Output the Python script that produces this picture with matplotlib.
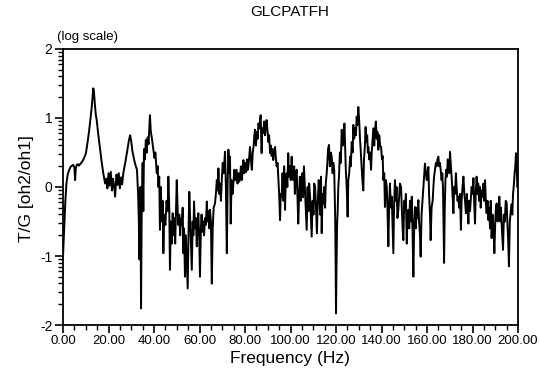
import numpy as np
import matplotlib
matplotlib.use("Agg")
from matplotlib import pyplot as plt
from matplotlib.ticker import FixedLocator, MultipleLocator

plt.rcParams['font.family'] = ['Liberation Sans', 'DejaVu Sans']

title = "GLCPATFH"
x_label = "Frequency (Hz)"
y_label = "T/G [oh2/oh1]"
x_ticks = [0, 20, 40, 60, 80, 100, 120, 140, 160, 180, 200]
y_ticks = [-2, -1, 0, 1, 2]

# (Hz, log10 T/G), split by frequency band
band_0_38 = [
    (0, -1.0), (0.5, -0.6), (1, -0.22), (1.5, 0.05), (2, 0.17), (2.5, 0.23), (3, 0.27), (3.5, 0.3),
    (4, 0.31), (4.5, 0.32), (5, 0.28), (5.3, 0.1), (5.6, 0.26), (6, 0.32), (6.5, 0.33), (7, 0.31),
    (7.5, 0.33), (8, 0.35), (8.5, 0.37), (9, 0.4), (9.5, 0.44), (10, 0.48), (10.5, 0.58), (11, 0.7),
    (11.5, 0.82), (12, 0.97), (12.5, 1.12), (13, 1.3), (13.3, 1.43), (13.6, 1.38), (14, 1.2),
    (14.4, 1.05), (14.8, 0.97), (15.5, 0.76), (16.3, 0.54), (17, 0.36), (17.7, 0.2), (18.5, 0.05),
    (19, 0.12), (19.5, -0.02), (20, 0.2), (20.5, 0.02), (21, 0.22), (21.5, -0.05), (22, 0.12),
    (22.5, 0.0), (22.9, -0.14), (23.5, 0.18), (24, 0.03), (24.5, 0.2), (25, -0.02), (25.5, 0.14),
    (26, 0.04), (26.5, 0.2), (27, 0.29), (27.5, 0.38), (28, 0.48), (28.5, 0.58), (29, 0.68),
    (29.5, 0.75), (30, 0.66), (30.5, 0.52), (31, 0.44), (31.5, 0.36), (32, 0.3), (32.5, 0.25),
    (33, -0.1), (33.3, -0.45), (33.6, -1.05), (34, 0.0), (34.3, -1.76), (34.6, -0.3), (35, 0.35),
    (35.3, -0.35), (35.6, 0.55), (36, 0.4), (36.4, 0.68), (36.8, 0.5), (37.2, 0.72), (37.6, 0.62),
    (38, 0.9), (38.2, 1.04),
]

band_38_73 = [
    (38.6, 0.8), (39.0, 0.72), (39.7, 0.54), (40.2, 0.42), (40.6, 0.5), (41.2, 0.2), (41.6, 0.3),
    (41.9, 0.0), (42.3, 0.15), (42.6, -0.62), (43.0, 0.0), (43.4, -0.5), (43.8, -0.2), (44.1, -0.96),
    (44.5, -0.4), (45.0, -0.55), (45.5, -0.2), (46.0, -0.35), (46.3, 0.15), (46.7, -0.3),
    (47.0, -1.2), (47.4, -0.5), (47.8, -0.82), (48.2, -0.38), (48.6, -0.7), (49.0, -0.45),
    (49.3, -0.82), (49.7, -0.3), (50.0, 0.1), (50.4, -0.35), (50.7, -0.55), (51.1, -0.4),
    (51.5, -0.7), (51.9, -0.45), (52.2, -0.55), (52.6, -0.3), (52.9, -0.96), (53.2, -0.6),
    (53.6, -1.3), (54.0, -0.7), (54.4, -1.1), (54.8, -1.47), (55.2, -0.6), (55.5, -0.07),
    (55.9, -0.5), (56.2, -0.8), (56.6, -1.2), (57.0, -0.5), (57.3, -0.7), (57.6, -0.21),
    (58.0, -0.6), (58.4, -0.45), (58.8, -0.86), (59.1, -0.5), (59.5, -0.38), (59.9, -0.8),
    (60.2, -1.3), (60.6, -0.6), (60.9, -0.4), (61.3, -0.65), (61.7, -0.5), (62.0, -0.7),
    (62.4, -0.45), (62.8, -0.55), (63.2, -0.21), (63.6, -0.5), (64.0, -0.35), (64.3, -0.6),
    (64.6, -0.33), (65.0, -0.5), (65.4, -1.4), (65.8, -0.6), (66.2, -0.3), (66.8, -0.24),
    (67.2, -0.1), (67.6, 0.1), (68.0, -0.05), (68.3, 0.27), (68.7, -0.1), (69.1, 0.05),
    (69.4, -0.2), (69.8, 0.1), (70.2, 0.35), (70.6, 0.2), (71.0, 0.4), (71.2, 0.51), (71.6, 0.0),
    (72.0, -0.96), (72.4, 0.1), (72.7, 0.54), (73.1, 0.2),
]

band_73_113 = [
    (73.4, 0.44), (73.7, -0.53), (74.1, 0.1), (74.5, -0.1), (74.9, 0.05), (75.3, 0.25), (75.7, 0.1),
    (76.3, 0.25), (76.7, 0.05), (77.1, 0.2), (77.5, 0.08), (77.8, 0.15), (78.2, 0.3), (78.6, 0.1),
    (79.0, 0.25), (79.3, 0.39), (79.7, 0.2), (80.1, 0.35), (80.5, 0.22), (80.9, 0.4), (81.2, 0.25),
    (81.5, 0.3), (81.9, 0.45), (82.2, 0.58), (82.6, 0.4), (83.0, 0.25), (83.4, 0.5), (83.8, 0.6),
    (84.1, 0.75), (84.4, 0.83), (84.8, 0.6), (85.2, 0.8), (85.6, 0.7), (85.9, 0.92), (86.3, 0.85),
    (86.6, 0.98), (86.9, 1.04), (87.1, 0.7), (87.3, 0.49), (87.6, 0.85), (88.0, 0.78), (88.4, 0.95),
    (88.8, 0.75), (89.2, 0.9), (89.5, 0.97), (89.9, 0.8), (90.3, 0.65), (90.6, 0.75), (91.0, 0.49),
    (91.4, 0.6), (91.7, 0.45), (92.1, 0.55), (92.4, 0.39), (92.8, 0.5), (93.2, 0.58), (93.6, 0.4),
    (93.9, 0.3), (94.3, 0.35), (94.6, 0.15), (95.0, -0.1), (95.4, -0.48), (95.7, -0.1),
    (96.1, -0.14), (96.5, 0.2), (96.9, -0.2), (97.2, 0.3), (97.6, -0.33), (97.9, 0.1), (98.3, 0.2),
    (98.6, 0.0), (99.0, 0.49), (99.3, 0.15), (99.7, 0.3), (100.1, 0.1), (100.5, 0.44), (100.8, 0.2),
    (101.2, 0.1), (101.6, 0.3), (101.9, -0.1), (102.3, 0.15), (102.7, 0.25), (103.0, -0.1),
    (103.4, -0.53), (103.8, -0.1), (104.1, 0.15), (104.5, -0.2), (104.9, 0.05), (105.2, 0.2),
    (105.5, -0.15), (105.9, 0.3), (106.3, 0.0), (106.7, -0.3), (107.1, -0.62), (107.5, 0.0),
    (107.9, -0.35), (108.2, 0.05), (108.6, -0.14), (108.9, -0.4), (109.3, -0.72), (109.7, -0.2),
    (110.1, -0.4), (110.4, 0.05), (110.8, 0.0), (111.2, -0.3), (111.6, -0.67), (112.0, -0.2),
    (112.4, 0.1), (112.7, -0.1),
]

band_113_148 = [
    (113.0, -0.4), (113.4, 0.15), (113.7, -0.67), (114.1, -0.1), (114.4, -0.24), (114.8, 0.0),
    (115.2, -0.3), (115.5, 0.05), (115.9, 0.2), (116.2, 0.35), (116.5, 0.55), (116.9, 0.61),
    (117.3, 0.3), (117.7, 0.5), (118.1, 0.44), (118.5, 0.2), (118.8, 0.35), (119.2, 0.25),
    (119.6, -0.38), (119.8, -1.0), (120.0, -1.83), (120.2, -1.2), (120.5, -0.5), (120.7, -0.38),
    (121.0, 0.0), (121.3, 0.15), (121.7, 0.5), (122.1, 0.35), (122.5, 0.83), (122.9, 0.6),
    (123.3, 0.75), (123.7, 0.92), (124.0, 0.6), (124.3, 0.25), (124.7, 0.0), (125.1, -0.43),
    (125.4, 0.1), (125.8, 0.2), (126.2, 0.44), (126.5, 0.3), (126.9, 0.65), (127.3, 0.5),
    (127.6, 0.9), (128.0, 0.7), (128.4, 0.85), (128.7, 0.75), (129.1, 1.02), (129.4, 0.9),
    (129.8, 1.16), (130.2, 0.95), (130.5, 0.73), (130.9, 0.5), (131.3, 0.29), (131.6, 0.1),
    (132.0, -0.05), (132.3, 0.4), (132.7, 0.6), (133.0, 0.87), (133.3, 0.65), (133.7, 0.75),
    (134.0, 0.5), (134.2, 0.58), (134.6, 0.4), (135.0, 0.5), (135.4, 0.25), (135.7, 0.5),
    (136.1, 0.7), (136.4, 0.85), (136.8, 0.6), (137.1, 0.8), (137.5, 0.95), (137.9, 0.7),
    (138.2, 0.8), (138.6, 0.54), (139.0, 0.75), (139.4, 0.6), (139.8, 0.58), (140.2, 0.4),
    (140.5, 0.45), (140.8, 0.1), (141.2, 0.2), (141.5, -0.29), (141.9, 0.1), (142.3, 0.0),
    (142.6, -0.3), (143.0, -0.86), (143.4, -0.2), (143.7, 0.05), (144.1, -0.3), (144.5, -0.14),
    (144.8, -0.5), (145.2, -0.96), (145.5, -0.3), (145.9, 0.1), (146.3, -0.2), (146.6, 0.0),
    (147.0, -0.45), (147.4, -0.33), (147.8, -0.1),
]

band_148_200 = [
    (148.1, 0.05), (148.6, 0.0), (148.9, -0.3), (149.3, -0.62), (149.6, -0.77), (150.0, -0.2),
    (150.3, -0.33), (150.7, -0.1), (151.1, -0.82), (151.4, -0.4), (151.8, -0.33), (152.2, -0.6),
    (152.5, -0.2), (152.9, -0.5), (153.3, -0.14), (153.6, -0.6), (154.0, -1.3), (154.4, -0.5),
    (154.7, -0.29), (155.1, -0.6), (155.5, -0.3), (155.8, -0.45), (156.2, -0.19), (156.5, -0.5),
    (156.9, -0.7), (157.2, -1.01), (157.6, -0.4), (158.0, -0.2), (158.4, 0.0), (158.7, 0.15),
    (159.1, 0.34), (159.5, 0.2), (159.9, 0.1), (160.2, 0.2), (160.6, 0.29), (160.9, -0.1),
    (161.3, -0.4), (161.6, -0.77), (162.0, -0.3), (162.5, -0.19), (162.8, 0.0), (163.1, 0.15),
    (163.5, 0.25), (163.9, 0.35), (164.2, 0.3), (164.6, 0.4), (165.0, 0.44), (165.3, 0.3),
    (165.7, 0.35), (166.0, 0.25), (166.4, 0.1), (166.7, 0.2), (167.0, 0.0), (167.2, -0.4),
    (167.5, -1.1), (167.8, -0.3), (168.1, 0.1), (168.4, 0.25), (168.8, 0.15), (169.1, 0.4),
    (169.4, 0.34), (169.8, 0.2), (170.1, 0.51), (170.5, 0.3), (170.9, 0.1), (171.2, -0.1),
    (171.6, -0.38), (171.9, 0.0), (172.3, -0.1), (172.7, 0.2), (173.0, 0.0), (173.4, -0.2),
    (173.8, -0.14), (174.1, -0.3), (174.5, -0.1), (174.9, -0.62), (175.2, -0.2), (175.6, 0.0),
    (176.0, 0.15), (176.4, -0.1), (176.7, -0.2), (177.1, -0.38), (177.5, -0.1), (177.8, -0.3),
    (178.2, -0.53), (178.5, -0.2), (178.9, -0.35), (179.2, -0.19), (179.6, 0.0), (180.0, -0.1),
    (180.4, 0.13), (180.7, -0.2), (181.1, -0.53), (181.4, -0.1), (181.8, 0.15), (182.2, -0.1),
    (182.5, 0.05), (182.9, -0.2), (183.3, 0.0), (183.6, -0.3), (184.0, -0.05), (184.5, -0.14),
    (184.8, 0.05), (185.2, -0.2), (185.5, 0.1), (185.9, -0.25), (186.2, -0.38), (186.6, -0.2),
    (187.0, -0.48), (187.3, -0.3), (187.7, -0.6), (188.0, -0.2), (188.4, -0.74), (188.8, -0.4),
    (189.2, -0.6), (189.6, -0.96), (190.0, -0.5), (190.3, -0.3), (190.6, -0.24), (191.0, -0.5),
    (191.4, -0.3), (191.8, -0.14), (192.2, -0.5), (192.5, -0.3), (192.9, -0.6), (193.4, -0.91),
    (193.8, -0.4), (194.2, -0.5), (194.6, -0.2), (195.0, -0.23), (195.3, -0.5), (195.7, -0.8),
    (196.0, -1.15), (196.4, -0.5), (196.8, -0.35), (197.2, -0.25), (197.5, -0.4), (197.8, -0.1),
    (198.1, 0.0), (198.5, 0.2), (198.8, 0.3), (199.1, 0.49), (199.4, 0.3), (199.7, 0.0),
    (200.0, 0.02),
]


def make_pic():
    pts = np.array(band_0_38 + band_38_73 + band_73_113 + band_113_148 + band_148_200)
    freq, tg = pts[:, 0], pts[:, 1]

    fig = plt.figure(figsize=(5.4, 3.7), dpi=100)
    ax = fig.add_axes([0.1167, 0.1216, 0.8426, 0.746])
    ax.plot(freq, tg, color="black", lw=1.4)

    ax.set_xlim(0, 200)
    ax.set_ylim(-2, 2)

    # x: major every 20 Hz, minor every 5 Hz
    ax.set_xticks(x_ticks)
    ax.set_xticklabels(["%.2f" % t for t in x_ticks], fontsize=9.5)
    ax.xaxis.set_minor_locator(MultipleLocator(5))

    # y is log10, so minor ticks fall on log positions inside each decade
    ax.set_yticks(y_ticks)
    ax.set_yticklabels([str(t) for t in y_ticks], fontsize=10)
    minor = [d + np.log10(k) for d in range(-2, 2) for k in range(2, 10)]
    ax.yaxis.set_minor_locator(FixedLocator(minor))

    ax.tick_params(which="major", direction="out", length=6, width=1.2, pad=1.5)
    ax.tick_params(which="minor", direction="out", length=3.5, width=1.0)
    for s in ax.spines.values():
        s.set_linewidth(1.3)

    fig.text(0.537, 1 - 12 / 370, title, ha="center", va="center", fontsize=11)
    fig.text(57 / 540, 1 - 37 / 370, "(log scale)", ha="left", va="center", fontsize=9.5)
    fig.text(26 / 540, 1 - 189 / 370, y_label, ha="center", va="center", rotation=90, fontsize=12.5)
    fig.text(290 / 540, 1 - 358 / 370, x_label, ha="center", va="center", fontsize=12.5)

    fig.savefig("out.png", dpi=100)


def main():
    make_pic()


if __name__ == '__main__':
    main()
